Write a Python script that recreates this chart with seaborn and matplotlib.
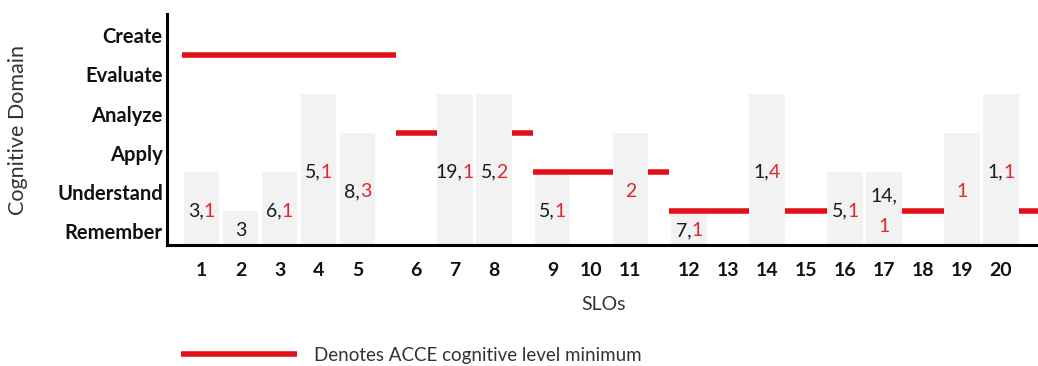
import matplotlib
matplotlib.use("Agg")
import matplotlib.pyplot as plt
from matplotlib.lines import Line2D
import seaborn as sns
import numpy as np
import pandas as pd

# cognitive levels, bottom to top
domains = ["Remember", "Understand", "Apply", "Analyze", "Evaluate", "Create"]

slos = list(range(1, 21))
# SLO group (groups are split by a small gap on the x axis)
slo_group = [1, 1, 1, 1, 1, 2, 2, 2, 3, 3, 3, 4, 4, 4, 4, 4, 4, 4, 4, 4]
# highest level reached (0 = no bar)
slo_level = [2, 1, 2, 4, 3, 0, 4, 4, 2, 0, 3, 1, 0, 4, 0, 2, 2, 0, 3, 4]
# ACCE minimum level for each group
acce_min = [5, 3, 2, 1]
# numbers inside the bars: black part, red part
black_nums = ["3", "3", "6", "5", "8", "", "19", "5", "5", "", "", "7", "", "1", "", "5", "14", "", "", "1"]
red_nums = ["1", "", "1", "1", "3", "", "1", "2", "1", "", "2", "1", "", "4", "", "1", "1", "", "1", "1"]
wrapped = [17]  # label split over two lines

red = "#e3101a"
red_txt = "#dc2a2e"
bw = 0.9  # bar width

sns.set_theme(style="white")
plt.rcParams['font.family'] = ['Lato', 'DejaVu Sans']

df = pd.DataFrame({"slo": slos, "group": slo_group, "level": slo_level,
                   "black": black_nums, "red": red_nums})
df["pos"] = np.arange(len(df)) + 0.5 * (df["group"] - 1)

fig = plt.figure(figsize=(10.38, 3.66), dpi=100)
ax = fig.add_axes([167/1038, 121/366, 871/1038, 231/366])

bars = df[df["level"] > 0]
sns.barplot(data=bars, x="pos", y="level", native_scale=True, color="#f2f2f2",
            saturation=1, width=bw, linewidth=0, ax=ax, zorder=2)

# minimum line per group, cut where a bar goes above it
for g, lvl in zip(sorted(df["group"].unique()), acce_min):
    sub = df[df["group"] == g]
    start = sub["pos"].min() - 0.5
    end = sub["pos"].max() + 1.0
    for _, row in sub.iterrows():
        if row["level"] > lvl:
            if row["pos"] - bw / 2 - start > 0.15:
                ax.plot([start, row["pos"] - bw / 2], [lvl, lvl], color=red, lw=4,
                        solid_capstyle="butt", zorder=3)
            start = row["pos"] + bw / 2
    if end - start > 0.15:
        ax.plot([start, end], [lvl, lvl], color=red, lw=4,
                solid_capstyle="butt", zorder=3)

ax.set_xlim(-0.885, 21.45)
ax.set_ylim(0.13, 6.05)

ax.set_yticks(np.arange(len(domains)) + 0.5)
ax.set_yticklabels(domains, fontsize=14.5, fontweight="bold", color="#111111")
ax.set_xticks(df["pos"])
ax.set_xticklabels([str(s) for s in slos], fontsize=14, fontweight="bold", color="#111111")
ax.tick_params(axis="y", length=0, pad=3)
ax.tick_params(axis="x", length=0, pad=12)
ax.set_xlabel("")
ax.set_ylabel("")

for s in ["top", "right"]:
    ax.spines[s].set_visible(False)
for s in ["left", "bottom"]:
    ax.spines[s].set_color("black")
    ax.spines[s].set_linewidth(2.2)

fig.text(18/1038, (366-130)/366, "Cognitive Domain", rotation=90, ha="center",
         va="center", fontsize=15.5, color="#333333")
fig.text(604/1038, (366-305)/366, "SLOs", ha="center", va="center",
         fontsize=14, color="#333333")

# labels inside bars, two colours
fig.canvas.draw()
renderer = fig.canvas.get_renderer()
kw = dict(fontsize=14, va="center", textcoords="offset points", zorder=4)
for _, row in df.iterrows():
    b, r = row["black"], row["red"]
    if not b and not r:
        continue
    x, y = row["pos"], row["level"] / 2
    if row["slo"] in wrapped:
        ax.annotate(b + ",", (x, y), xytext=(0, 11), ha="center", color="#1a1a1a", **kw)
        ax.annotate(r, (x, y), xytext=(0, -11), ha="center", color=red_txt, **kw)
        continue
    if not r:
        ax.annotate(b, (x, y), xytext=(0, 0), ha="center", color="#1a1a1a", **kw)
        continue
    if not b:
        ax.annotate(r, (x, y), xytext=(0, 0), ha="center", color=red_txt, **kw)
        continue
    full = b + "," + r
    t = ax.annotate(full, (x, y), xytext=(0, 0), ha="center", alpha=0, **kw)
    w = t.get_window_extent(renderer).width * 72 / fig.dpi
    t.remove()
    ax.annotate(b + ",", (x, y), xytext=(-w / 2, 0), ha="left", color="#1a1a1a", **kw)
    ax.annotate(r, (x, y), xytext=(w / 2, 0), ha="right", color=red_txt, **kw)

handle = Line2D([], [], color=red, lw=4, solid_capstyle="butt")
fig.legend([handle], ["Denotes ACCE cognitive level minimum"], loc="center left",
           bbox_to_anchor=(181/1038, 11/366), frameon=False, handlelength=6.2,
           handletextpad=0.9, borderpad=0, borderaxespad=0, fontsize=13.5,
           labelcolor="#333333")

fig.savefig("out.png", dpi=100)
